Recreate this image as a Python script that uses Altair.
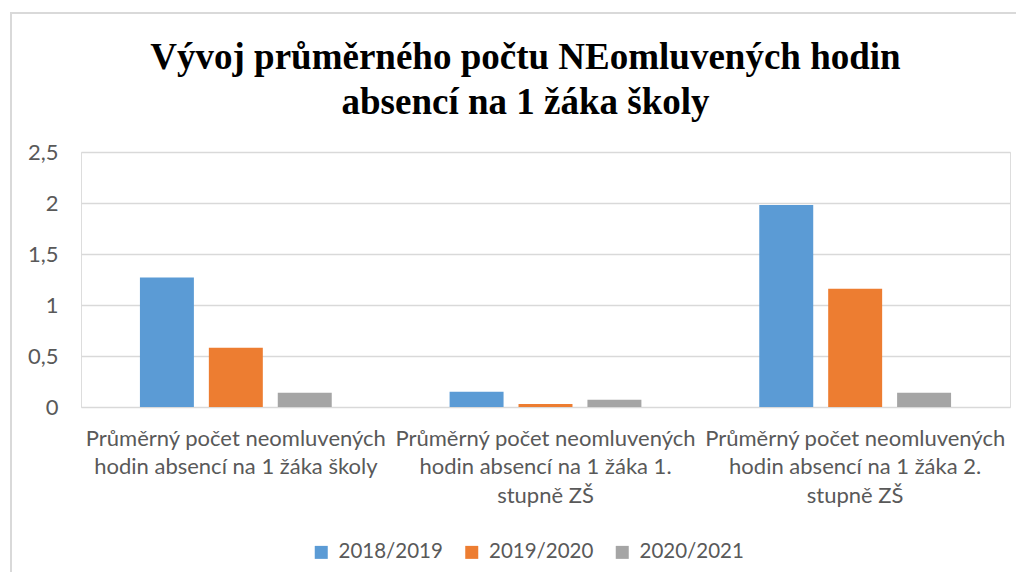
import altair as alt
import pandas as pd

categories = [
    "Průměrný počet neomluvených\nhodin absencí na 1 žáka školy",
    "Průměrný počet neomluvených\nhodin absencí na 1 žáka 1.\nstupně ZŠ",
    "Průměrný počet neomluvených\nhodin absencí na 1 žáka 2.\nstupně ZŠ",
]
series = ["2018/2019", "2019/2020", "2020/2021"]
values_2018 = [1.27, 0.15, 1.98]
values_2019 = [0.58, 0.03, 1.16]
values_2020 = [0.14, 0.07, 0.14]
colors = ["#5B9BD5", "#ED7D31", "#A5A5A5"]

rows = []
for s, vals in zip(series, [values_2018, values_2019, values_2020]):
    for c, v in zip(categories, vals):
        rows.append({"kategorie": c, "rok": s, "hodnota": v})
df = pd.DataFrame(rows)

label_color = "#595959"
font = "Lato"

bars = alt.Chart(df).mark_bar().encode(
    x=alt.X("kategorie:N", sort=categories,
            scale=alt.Scale(paddingInner=0, paddingOuter=0),
            axis=alt.Axis(title=None, labelAngle=0, domain=False, ticks=False,
                          labelFont=font, labelFontSize=22, labelColor=label_color,
                          labelPadding=21, labelLineHeight=28.5, labelLimit=400,
                          labelExpr="split(datum.label, '\\n')")),
    xOffset=alt.XOffset("rok:N", sort=series,
                        scale=alt.Scale(paddingInner=0.217, paddingOuter=0.855)),
    y=alt.Y("hodnota:Q", scale=alt.Scale(domain=[0, 2.5], nice=False),
            axis=alt.Axis(title=None, values=[0, 0.5, 1, 1.5, 2, 2.5], domain=False,
                          ticks=False, labelFont=font, labelFontSize=22,
                          labelColor=label_color, labelPadding=23,
                          labelExpr="replace(format(datum.value, '~g'), '.', ',')",
                          gridColor="#D9D9D9", gridWidth=1.5)),
    color=alt.Color("rok:N", sort=series,
                    scale=alt.Scale(domain=series, range=colors),
                    legend=alt.Legend(title=None, orient="none", direction="horizontal",
                                      legendX=230, legendY=390, symbolType="square",
                                      symbolSize=169, symbolStrokeWidth=0,
                                      labelFont=font, labelFontSize=20.5,
                                      labelColor=label_color, labelOffset=7,
                                      columnPadding=18.5, padding=0)),
)

border = alt.Chart(pd.DataFrame({"a": [0]})).mark_rect(
    fill=None, stroke="#D9D9D9", strokeWidth=2
).encode(
    x=alt.value(-70), x2=alt.value(1000), y=alt.value(-139), y2=alt.value(600)
)

chart = alt.layer(border, bars).properties(
    width=929,
    height=255,
    padding={"left": 73, "top": 144, "right": 6, "bottom": 165},
    autosize=alt.AutoSizeParams(type="none"),
    title=alt.TitleParams(
        text=["Vývoj průměrného počtu NEomluvených hodin", "absencí na 1 žáka školy"],
        font="Liberation Serif", fontSize=37, fontWeight="bold", color="black",
        anchor="middle", dx=-20, offset=-110, lineHeight=45,
    ),
).configure_view(stroke=None).configure(background="white")

chart.save("out.html", embed_options={"renderer": "svg", "actions": False})
